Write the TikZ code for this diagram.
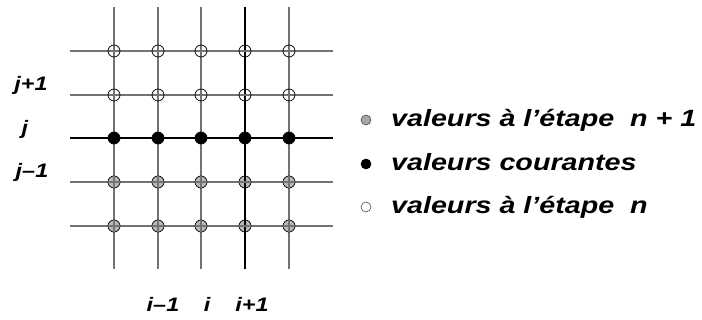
\documentclass[tikz,border=0pt]{standalone}
\usepackage{fontspec}
\setmainfont{Liberation Sans}
\newfontfamily\bifont{Liberation Sans Bold Italic}
\newcommand{\legtxt}[1]{\scalebox{1.22}[1]{#1}}
\newcommand{\labtxt}[1]{\scalebox{1.2}[1]{#1}}
\begin{document}
\begin{tikzpicture}[x=1pt,y=-1pt,
  gline/.style={draw=black!55, line width=1.2pt},
  bline/.style={draw=black, line width=1.2pt},
  pt/.style={circle, draw=black, line width=0.7pt, minimum size=12pt, inner sep=0pt},
  ptw/.style={pt, fill=none},
  ptg/.style={pt, fill=black!35, fill opacity=0.8},
  ptb/.style={pt, fill=black},
  lab/.style={font=\bifont\fontsize{19.5}{20}\selectfont, inner sep=0pt},
  leg/.style={font=\bifont\fontsize{23.5}{24}\selectfont, inner sep=0pt, anchor=base west},
  lb/.style={circle, draw=black!70, line width=0.6pt, minimum size=10pt, inner sep=0pt}]
\useasboundingbox (0,0) rectangle (702,320);
% columns
\foreach \n/\x in {1/114,2/158,3/201,5/289}{
  \coordinate (ct\n) at (\x,7); \coordinate (cb\n) at (\x,269);
  \draw[gline] (ct\n) -- (cb\n);}
\coordinate (ct4) at (245,7); \coordinate (cb4) at (245,269);
\draw[bline] (ct4) -- (cb4);
% rows
\foreach \m/\y in {1/51,2/95,4/182,5/226}{
  \coordinate (rl\m) at (70,\y); \coordinate (rr\m) at (333,\y);
  \draw[gline] (rl\m) -- (rr\m);}
\coordinate (rl3) at (70,138); \coordinate (rr3) at (333,138);
\draw[bline] (rl3) -- (rr3);
% points
\foreach \n/\x in {1/114,2/158,3/201,4/245,5/289}{
  \node[ptw] (w1\n) at (\x,51) {};
  \node[ptw] (w2\n) at (\x,95) {};
  \node[ptb] (b3\n) at (\x,138) {};
  \node[ptg] (g4\n) at (\x,182) {};
  \node[ptg] (g5\n) at (\x,226) {};
}
% redraw crosshair inside gray points
\foreach \n/\x in {1/114,2/158,3/201,5/289}{
  \draw[gline] (\x,176) -- (\x,188);
  \draw[gline] (\x,220) -- (\x,232);}
\draw[bline] (245,176) -- (245,188);
\draw[bline] (245,220) -- (245,232);
\foreach \x in {114,158,201,245,289}{
  \draw[gline] (\x-6,182) -- (\x+6,182);
  \draw[gline] (\x-6,226) -- (\x+6,226);}
% axis labels
\node[lab, anchor=base] (jp) at (31,91) {\labtxt{j+1}};
\node[lab, anchor=base] (j) at (25,135) {\labtxt{j}};
\node[lab, anchor=base] (jm) at (32,178) {\labtxt{j\textendash1}};
\node[lab, anchor=base] (im) at (163,312) {\labtxt{i\textendash1}};
\node[lab, anchor=base] (i0) at (207,312) {\labtxt{i}};
\node[lab, anchor=base] (ip) at (252,312) {\labtxt{i+1}};
% legend
\node[lb, fill=black!35] (l1) at (366,120) {};
\node[lb, fill=black, draw=black] (l2) at (366,164) {};
\node[lb, fill=white] (l3) at (366,207) {};
\node[leg] (t1) at (391,127) {\legtxt{valeurs à l’étape\ \ n + 1}};
\node[leg] (t2) at (391,171) {\legtxt{valeurs courantes}};
\node[leg] (t3) at (391,214) {\legtxt{valeurs à l’étape\ \ n}};
\end{tikzpicture}
\end{document}
